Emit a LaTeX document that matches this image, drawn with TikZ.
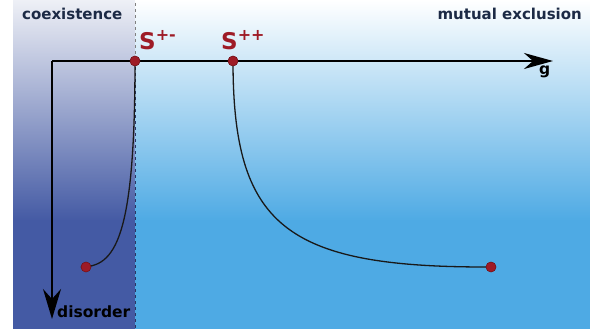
\documentclass[tikz,border=0pt]{standalone}
\usepackage{fontspec}
\setmainfont{DejaVu Sans}
\usetikzlibrary{arrows.meta}

\definecolor{coexTop}{HTML}{EEF0F6}
\definecolor{coexBot}{HTML}{445AA4}
\definecolor{exclTop}{HTML}{FFFFFF}
\definecolor{exclBot}{HTML}{4EAAE4}
\definecolor{labelInk}{HTML}{1C2A45}
\definecolor{pointRed}{HTML}{9E1B26}

\tikzset{
  dot/.style={circle, fill=pointRed, draw=pointRed!70!black, line width=0.4pt,
    inner sep=0pt, minimum size=10pt},
  axisline/.style={line width=1.8pt, black},
  flowline/.style={line width=1.3pt, black!90},
  region/.style={font=\bfseries\fontsize{15}{15}\selectfont, text=labelInk, inner sep=0pt},
  axislabel/.style={font=\bfseries\fontsize{15.5}{15.5}\selectfont, text=black, inner sep=0pt},
  splabel/.style={text=pointRed, inner sep=0pt}
}
\newcommand{\spt}[1]{\bfseries{\fontsize{23}{23}\selectfont S}{\fontsize{16}{16}\selectfont\raisebox{9pt}{#1}}}

\begin{document}
\begin{tikzpicture}[x=1pt, y=-1pt]
\useasboundingbox (0,0) rectangle (590,329);

% Background regions
\shade[top color=coexTop, bottom color=coexBot] (13,0) rectangle (135,221);
\fill[coexBot] (13,220) rectangle (135,329);
\shade[top color=exclTop, bottom color=exclBot] (135,0) rectangle (590,221);
\fill[exclBot] (135,220) rectangle (590,329);
\draw[gray, dashed, line width=0.7pt] (135,3) -- (135,61);
\draw[coexBot!60!black, dashed, line width=0.6pt] (135,61) -- (135,329);

% Region labels
\node[region, anchor=base west] (coex) at (22,20) {coexistence};
\node[region, anchor=base east] (excl) at (582,20) {mutual exclusion};

% Axes
\coordinate (O) at (52,61);
\coordinate (gEnd) at (553,61);
\coordinate (dEnd) at (52,319);
\draw[axisline, -{Stealth[length=29pt, width=16pt, inset=9pt]}] (O) -- (gEnd);
\draw[axisline, -{Stealth[length=30pt, width=18pt, inset=10pt]}] (O) -- (dEnd);
\node[axislabel, anchor=base west] (glab) at (539,75) {g};
\node[axislabel, anchor=base west] (dlab) at (57,317) {disorder};

% Points
\node[dot] (Spm) at (135,61) {};
\node[dot] (Spp) at (233,61) {};
\node[dot] (Dpm) at (86,267) {};
\node[dot] (Dpp) at (491,267) {};

% Flow curves
\draw[flowline] (Spm.center) .. controls (135,240) and (115,267) .. (Dpm.west);
\draw[flowline] (Spp.center) .. controls (233,225) and (285,267) .. (Dpp.west);
\node[dot] at (Dpm) {};
\node[dot] at (Dpp) {};
\node[dot] at (Spm) {};
\node[dot] at (Spp) {};

% Point labels
\node[splabel, anchor=base west] (lpm) at (139,50) {\spt{+-}};
\node[splabel, anchor=base west] (lpp) at (221,50) {\spt{++}};
\end{tikzpicture}
\end{document}
